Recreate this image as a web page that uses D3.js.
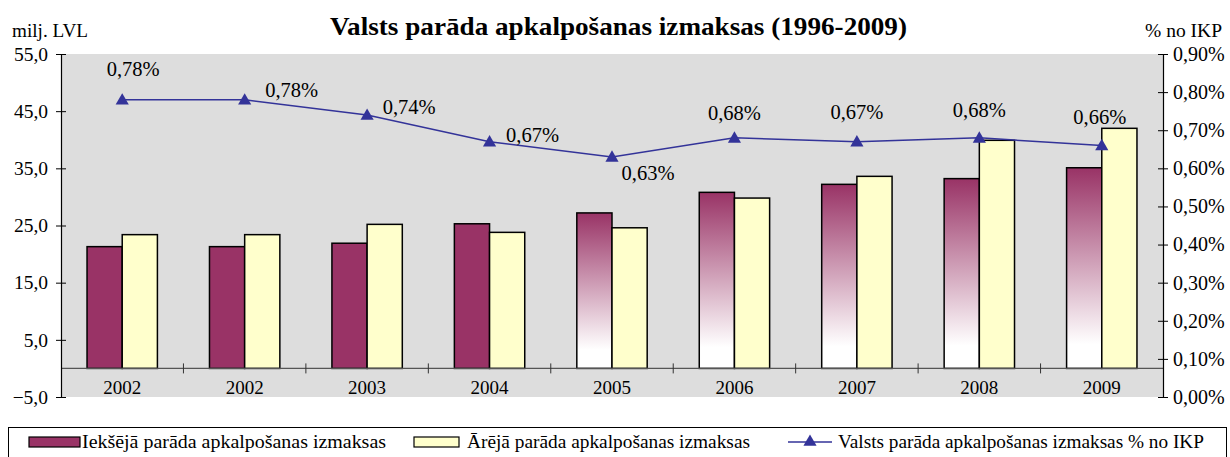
<!DOCTYPE html>
<html lang="lv">
  <head>
    <meta charset="utf-8">
    <title>Valsts parāda apkalpošanas izmaksas</title>
    <script src="https://d3js.org/d3.v7.min.js"></script>
    <style>
      body { margin: 0; background: #fff; }
    </style>
  </head>
  <body>
    <div id="chart"></div>
    <script>

      var years = ["2002", "2002", "2003", "2004", "2005", "2006", "2007", "2008", "2009"];
      var internalCost = [21.3, 21.3, 21.9, 25.3, 27.2, 30.8, 32.2, 33.2, 35.1];
      var externalCost = [23.4, 23.4, 25.2, 23.8, 24.6, 29.8, 33.6, 39.9, 42.0];
      var gdpShare = [0.78, 0.78, 0.74, 0.67, 0.63, 0.68, 0.67, 0.68, 0.66];
      var leftTicks = [-5, 5, 15, 25, 35, 45, 55];
      var rightTicks = [0, 0.1, 0.2, 0.3, 0.4, 0.5, 0.6, 0.7, 0.8, 0.9];
      var seriesNames = ["Iekšējā parāda apkalpošanas izmaksas", "Ārējā parāda apkalpošanas izmaksas", "Valsts parāda apkalpošanas izmaksas % no IKP"];
      // from 2005 on the internal bars fade to white
      var fadedFrom = 4;

      var serif = "'Liberation Serif', 'Times New Roman', serif";
      var width = 1230;
      var height = 457;
      var margin = {top: 54, left: 61, right: 67, bottom: 60};

      var svg = d3.select("#chart")
        .append("svg")
        .attr("width", width)
        .attr("height", height)
        .attr("font-family", serif);

      var defs = svg.append("defs");
      var grad = defs.append("linearGradient")
        .attr("id", "fade")
        .attr("x1", 0).attr("y1", 0).attr("x2", 0).attr("y2", 1);
      grad.append("stop").attr("offset", "0%").attr("stop-color", "#993366");
      grad.append("stop").attr("offset", "88%").attr("stop-color", "#ffffff");
      grad.append("stop").attr("offset", "100%").attr("stop-color", "#ffffff");

      var plotBottom = height - margin.bottom;

      var xScale = d3.scaleBand()
        .domain(d3.range(years.length))
        .range([margin.left, width - margin.right]);

      var xInner = d3.scaleBand()
        .domain(["int", "ext"])
        .range([0, xScale.bandwidth()])
        .paddingInner(0)
        .paddingOuter(0.74);

      var yScale = d3.scaleLinear()
        .domain([-5, 55])
        .range([plotBottom, margin.top]);

      var yRight = d3.scaleLinear()
        .domain([0, 0.9])
        .range([plotBottom, margin.top]);

      // plot background
      svg.append("rect")
        .attr("x", margin.left)
        .attr("y", margin.top)
        .attr("width", width - margin.right - margin.left)
        .attr("height", plotBottom - margin.top)
        .attr("fill", "#dddddd");

      // bars
      var groups = svg.selectAll(".group")
        .data(years.map(function(y, i){ return i; }))
        .enter()
        .append("g")
        .attr("transform", function(i){ return `translate(${xScale(i)},0)`; });

      groups.append("rect")
        .attr("x", xInner("int"))
        .attr("y", function(i){ return yScale(internalCost[i]); })
        .attr("width", xInner.bandwidth())
        .attr("height", function(i){ return yScale(0) - yScale(internalCost[i]); })
        .attr("fill", function(i){ return i >= fadedFrom ? "url(#fade)" : "#993366"; })
        .attr("stroke", "#000")
        .attr("stroke-width", 1.5);

      groups.append("rect")
        .attr("x", xInner("ext"))
        .attr("y", function(i){ return yScale(externalCost[i]); })
        .attr("width", xInner.bandwidth())
        .attr("height", function(i){ return yScale(0) - yScale(externalCost[i]); })
        .attr("fill", "#ffffcc")
        .attr("stroke", "#000")
        .attr("stroke-width", 1.5);

      // zero line with category ticks
      svg.append("line")
        .attr("x1", margin.left).attr("x2", width - margin.right)
        .attr("y1", yScale(0)).attr("y2", yScale(0))
        .attr("stroke", "#555").attr("stroke-width", 1.2);

      svg.selectAll(".catTick")
        .data(d3.range(1, years.length))
        .enter()
        .append("line")
        .attr("x1", function(i){ return xScale(i); })
        .attr("x2", function(i){ return xScale(i); })
        .attr("y1", yScale(0) - 5)
        .attr("y2", yScale(0) + 5)
        .attr("stroke", "#333");

      svg.selectAll(".yearLabel")
        .data(years)
        .enter()
        .append("text")
        .attr("x", function(d, i){ return xScale(i) + xScale.bandwidth() / 2; })
        .attr("y", plotBottom - 3)
        .attr("text-anchor", "middle")
        .style("font-size", "19px")
        .text(function(d){ return d; });

      // axes
      var fmtLeft = function(d){ return d3.format(".1f")(d).replace(".", ","); };
      var fmtRight = function(d){ return d3.format(".2f")(d).replace(".", ",") + "%"; };

      var yAxis = svg.append("g")
        .attr("transform", `translate(${margin.left},0)`)
        .call(d3.axisLeft(yScale).tickValues(leftTicks).tickFormat(fmtLeft).tickSize(5).tickSizeOuter(0));
      yAxis.selectAll(".tick line").attr("x2", -5).attr("x1", 5);
      yAxis.selectAll("text").attr("x", -13).style("font-size", "19.5px");

      var yAxisR = svg.append("g")
        .attr("transform", `translate(${width - margin.right},0)`)
        .call(d3.axisRight(yRight).tickValues(rightTicks).tickFormat(fmtRight).tickSize(5).tickSizeOuter(0));
      yAxisR.selectAll(".tick line").attr("x1", -5).attr("x2", 5);
      yAxisR.selectAll("text").attr("x", 10).style("font-size", "20px");

      svg.selectAll(".domain").attr("stroke", "#000").attr("stroke-width", 1.2);
      svg.selectAll(".tick line").attr("stroke", "#000");

      // line series
      var lineX = function(d, i){ return xScale(i) + xScale.bandwidth() / 2; };
      svg.append("path")
        .datum(gdpShare)
        .attr("fill", "none")
        .attr("stroke", "#333399")
        .attr("stroke-width", 1.5)
        .attr("d", d3.line().x(lineX).y(function(d){ return yRight(d); }));

      var tri = d3.symbol().type(d3.symbolTriangle).size(75);
      svg.selectAll(".marker")
        .data(gdpShare)
        .enter()
        .append("path")
        .attr("d", tri)
        .attr("fill", "#333399")
        .attr("transform", function(d, i){ return `translate(${lineX(d, i)},${yRight(d) + 1})`; });

      // label offsets (dx, dy) relative to each point
      var labelShift = [[11, -24], [47, -3], [42, -1], [43, 0], [36, 23], [0, -18], [0, -23], [0, -21], [-2, -21]];
      svg.selectAll(".pctLabel")
        .data(gdpShare)
        .enter()
        .append("text")
        .attr("x", function(d, i){ return lineX(d, i) + labelShift[i][0]; })
        .attr("y", function(d, i){ return yRight(d) + labelShift[i][1]; })
        .attr("text-anchor", "middle")
        .style("font-size", "20.5px")
        .text(function(d){ return d3.format(".2f")(d).replace(".", ",") + "%"; });

      // titles
      svg.append("text")
        .attr("x", 330).attr("y", 35)
        .attr("textLength", 577).attr("lengthAdjust", "spacingAndGlyphs")
        .style("font-size", "25px").style("font-weight", "bold")
        .text("Valsts parāda apkalpošanas izmaksas (1996-2009)");

      svg.append("text")
        .attr("x", 12).attr("y", 37)
        .attr("textLength", 76).attr("lengthAdjust", "spacingAndGlyphs")
        .style("font-size", "19px")
        .text("milj. LVL");

      svg.append("text")
        .attr("x", 1145).attr("y", 37)
        .attr("textLength", 77).attr("lengthAdjust", "spacingAndGlyphs")
        .style("font-size", "19px")
        .text("% no IKP");

      // legend
      var legend = svg.append("g");
      legend.append("rect")
        .attr("x", 8.5).attr("y", 427.5)
        .attr("width", 1218).attr("height", 40)
        .attr("fill", "#fff").attr("stroke", "#000");

      legend.append("rect")
        .attr("x", 29).attr("y", 437).attr("width", 51).attr("height", 10)
        .attr("fill", "#993366").attr("stroke", "#000").attr("stroke-width", 1.2);
      legend.append("text")
        .attr("x", 82).attr("y", 448).style("font-size", "18.5px")
        .attr("textLength", 304).attr("lengthAdjust", "spacingAndGlyphs")
        .text(seriesNames[0]);

      legend.append("rect")
        .attr("x", 414).attr("y", 437).attr("width", 45).attr("height", 10)
        .attr("fill", "#ffffcc").attr("stroke", "#000").attr("stroke-width", 1.2);
      legend.append("text")
        .attr("x", 467).attr("y", 448).style("font-size", "18.5px")
        .attr("textLength", 283).attr("lengthAdjust", "spacingAndGlyphs")
        .text(seriesNames[1]);

      legend.append("line")
        .attr("x1", 788).attr("x2", 832).attr("y1", 442).attr("y2", 442)
        .attr("stroke", "#333399").attr("stroke-width", 1.5);
      legend.append("path")
        .attr("d", tri)
        .attr("fill", "#333399")
        .attr("transform", "translate(810,442)");
      legend.append("text")
        .attr("x", 838).attr("y", 448).style("font-size", "18.5px")
        .attr("textLength", 366).attr("lengthAdjust", "spacingAndGlyphs")
        .text(seriesNames[2]);

      svg.selectAll("text").attr("font-family", serif).style("font-family", serif).attr("fill", "#000");

    </script>
  </body>
</html>
